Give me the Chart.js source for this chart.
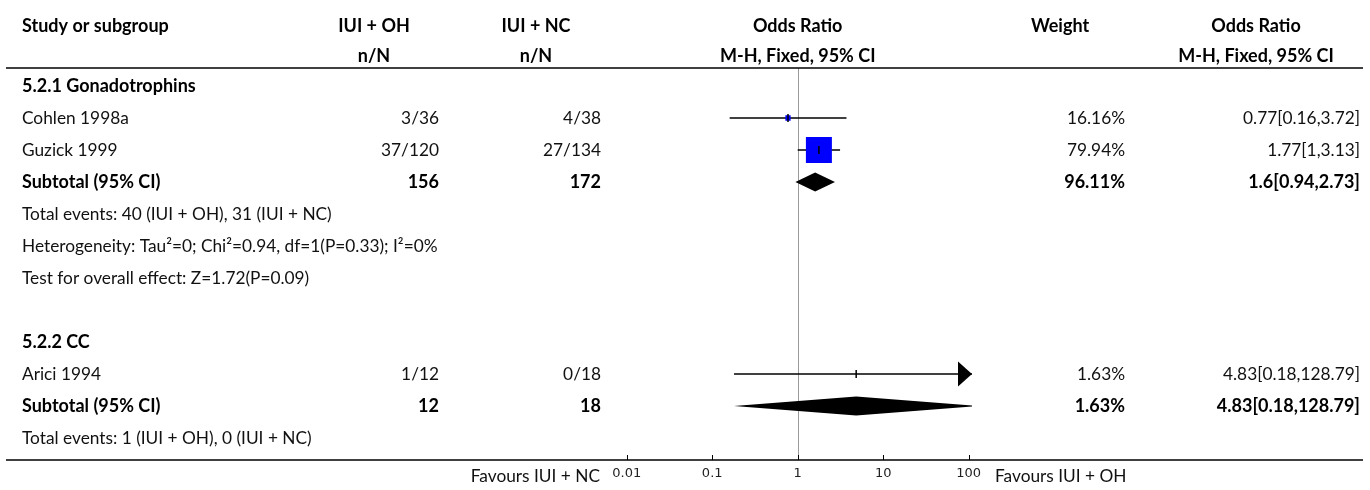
<!DOCTYPE html>
<html><head><meta charset="utf-8">
<script src="https://cdn.jsdelivr.net/npm/chart.js@4"></script>
<style>html,body{margin:0;padding:0;background:#fff;}#wrap{width:1370px;height:490px;position:relative}</style>
</head><body><div id="wrap"><canvas id="c" width="1370" height="490"></canvas></div>
<script>
// ---------- data ----------
const headerTop = ["Study or subgroup", "IUI + OH", "IUI + NC", "Odds Ratio", "Weight", "Odds Ratio"];
const headerSub = ["", "n/N", "n/N", "M-H, Fixed, 95% CI", "", "M-H, Fixed, 95% CI"];
const rowLabels = ["5.2.1 Gonadotrophins", "Cohlen 1998a", "Guzick 1999", "Subtotal (95% CI)",
  "Total events: 40 (IUI + OH), 31 (IUI + NC)",
  "Heterogeneity: Tau\u00B2=0; Chi\u00B2=0.94, df=1(P=0.33); I\u00B2=0%",
  "Test for overall effect: Z=1.72(P=0.09)", "",
  "5.2.2 CC", "Arici 1994", "Subtotal (95% CI)", "Total events: 1 (IUI + OH), 0 (IUI + NC)"];
const rowKinds = ["group", "study", "study", "subtotal", "note", "note", "note", "blank", "group", "study", "subtotal", "note"];
const ohText = ["", "3/36", "37/120", "156", "", "", "", "", "", "1/12", "12", ""];
const ncText = ["", "4/38", "27/134", "172", "", "", "", "", "", "0/18", "18", ""];
const orEst  = [null, 0.77, 1.77, 1.6, null, null, null, null, null, 4.83, 4.83, null];
const ciLow  = [null, 0.16, 1, 0.94, null, null, null, null, null, 0.18, 0.18, null];
const ciHigh = [null, 3.72, 3.13, 2.73, null, null, null, null, null, 128.79, 128.79, null];
const weightVals = [null, 16.16, 79.94, 96.11, null, null, null, null, null, 1.63, 1.63, null];
const weightText = ["", "16.16%", "79.94%", "96.11%", "", "", "", "", "", "1.63%", "1.63%", ""];
const ciText = ["", "0.77[0.16,3.72]", "1.77[1,3.13]", "1.6[0.94,2.73]", "", "", "", "", "", "4.83[0.18,128.79]", "4.83[0.18,128.79]", ""];
const axisTicks = [0.01, 0.1, 1, 10, 100];
const axisTickLabels = ["0.01", "0.1", "1", "10", "100"];
const favoursLeft = "Favours IUI + NC";
const favoursRight = "Favours IUI + OH";

// ---------- styling / layout ----------
const FONT = "Lato";
const FS = 17.3, FSB = 18;
const PX_PER_DECADE = 85.5;
const X_ONE = 797.7;
const EXT = 2.0386; // decades shown each side
const ROW0 = 86, ROWH = 32, TOP = 68, BOTTOM = 460;
const MAXW = Math.max(...weightVals.filter((v, i) => rowKinds[i] === "study"));
const MAX_SIDE = 26;

const studyIdx = rowKinds.map((k, i) => k === "study" ? i : -1).filter(i => i >= 0);
const subIdx = rowKinds.map((k, i) => k === "subtotal" ? i : -1).filter(i => i >= 0);

const datasets = [];
studyIdx.forEach(i => {
  datasets.push({
    type: "line", data: [{x: ciLow[i], y: i}, {x: ciHigh[i], y: i}],
    borderColor: "#000", borderWidth: 1.5, pointRadius: 0, order: 3
  });
});
datasets.push({
  type: "scatter",
  data: studyIdx.map(i => ({x: orEst[i], y: i})),
  pointStyle: "rect",
  pointRadius: studyIdx.map(i => (MAX_SIDE * weightVals[i] / MAXW) / Math.SQRT2),
  backgroundColor: "#0000ff", borderWidth: 0, order: 2
});
datasets.push({
  type: "scatter",
  data: studyIdx.map(i => ({x: orEst[i], y: i})),
  pointStyle: "line", rotation: 90, pointRadius: 4,
  borderColor: "#000", borderWidth: 1.5, order: 1
});

const forestPlugin = {
  id: "forest",
  beforeDatasetsDraw(chart) {
    const {ctx, chartArea, scales: {x}} = chart;
    const px = x.getPixelForValue(1);
    ctx.save();
    ctx.strokeStyle = "#9a9a9a"; ctx.lineWidth = 1;
    ctx.beginPath(); ctx.moveTo(Math.round(px) + 0.5, chartArea.top); ctx.lineTo(Math.round(px) + 0.5, chartArea.bottom); ctx.stroke();
    ctx.restore();
  },
  afterDatasetsDraw(chart) {
    const {ctx, chartArea, scales: {x, y}} = chart;
    ctx.save();
    // diamonds
    ctx.beginPath(); ctx.rect(chartArea.left, chartArea.top, chartArea.right - chartArea.left, chartArea.bottom - chartArea.top); ctx.clip();
    ctx.fillStyle = "#000";
    subIdx.forEach(i => {
      const yc = y.getPixelForValue(i);
      const xl = x.getPixelForValue(ciLow[i]), xm = x.getPixelForValue(orEst[i]), xh = x.getPixelForValue(ciHigh[i]);
      ctx.beginPath(); ctx.moveTo(xl, yc); ctx.lineTo(xm, yc - 9.5); ctx.lineTo(xh, yc); ctx.lineTo(xm, yc + 9.5); ctx.closePath(); ctx.fill();
    });
    ctx.restore();
    ctx.save();
    // arrows for truncated CIs
    ctx.fillStyle = "#000";
    studyIdx.forEach(i => {
      const yc = y.getPixelForValue(i);
      if (ciHigh[i] > x.max) {
        const tip = chartArea.right;
        ctx.beginPath(); ctx.moveTo(tip, yc); ctx.lineTo(tip - 14, yc - 12.5); ctx.lineTo(tip - 14, yc + 12.5); ctx.closePath(); ctx.fill();
      }
      if (ciLow[i] < x.min) {
        const tip = chartArea.left;
        ctx.beginPath(); ctx.moveTo(tip, yc); ctx.lineTo(tip + 14, yc - 12.5); ctx.lineTo(tip + 14, yc + 12.5); ctx.closePath(); ctx.fill();
      }
    });
    // horizontal rules
    ctx.strokeStyle = "#000"; ctx.lineWidth = 1.5;
    ctx.beginPath(); ctx.moveTo(6, TOP); ctx.lineTo(1363, TOP); ctx.stroke();
    ctx.beginPath(); ctx.moveTo(6, BOTTOM); ctx.lineTo(1363, BOTTOM); ctx.stroke();
    // axis ticks
    ctx.lineWidth = 1;
    axisTicks.forEach((t, k) => {
      const tx = Math.round(x.getPixelForValue(t)) + 0.5;
      ctx.beginPath(); ctx.moveTo(tx, BOTTOM); ctx.lineTo(tx, BOTTOM - 5); ctx.stroke();
    });
    ctx.fillStyle = "#222"; ctx.font = "13px 'DejaVu Sans'"; ctx.textAlign = "center"; ctx.textBaseline = "middle";
    axisTicks.forEach((t, k) => ctx.fillText(axisTickLabels[k], x.getPixelForValue(t), 474));
    // favours
    ctx.fillStyle = "#111"; ctx.font = FS + "px " + FONT; ctx.textBaseline = "middle";
    ctx.textAlign = "right"; ctx.fillText(favoursLeft, 600, 476);
    ctx.textAlign = "left"; ctx.fillText(favoursRight, 995, 476);
    // headers
    const bold = "bold " + FSB + "px " + FONT, reg = FS + "px " + FONT;
    ctx.font = bold; ctx.fillStyle = "#000";
    const hx = [22, 374, 536, x.getPixelForValue(1), 1060, 1256];
    headerTop.forEach((h, k) => { ctx.textAlign = k === 0 ? "left" : "center"; ctx.fillText(h, hx[k], 26); });
    headerSub.forEach((h, k) => { if (h) { ctx.textAlign = k === 0 ? "left" : "center"; ctx.fillText(h, hx[k], 56); } });
    // rows
    rowLabels.forEach((lab, i) => {
      const yc = y.getPixelForValue(i);
      const isBold = rowKinds[i] === "group" || rowKinds[i] === "subtotal";
      ctx.font = isBold ? bold : reg; ctx.fillStyle = isBold ? "#000" : "#111";
      ctx.textAlign = "left"; ctx.fillText(lab, 22, yc);
      ctx.textAlign = "right";
      if (ohText[i]) ctx.fillText(ohText[i], 439, yc);
      if (ncText[i]) ctx.fillText(ncText[i], 601, yc);
      if (weightText[i]) ctx.fillText(weightText[i], 1125, yc);
      if (ciText[i]) ctx.fillText(ciText[i], 1360, yc);
    });
    ctx.restore();
  }
};

new Chart(document.getElementById("c"), {
  data: {datasets},
  options: {
    responsive: false, animation: false, devicePixelRatio: 1,
    layout: {padding: {left: X_ONE - EXT * PX_PER_DECADE, right: 1370 - (X_ONE + EXT * PX_PER_DECADE), top: TOP, bottom: 490 - BOTTOM}},
    scales: {
      x: {type: "logarithmic", min: Math.pow(10, -EXT), max: Math.pow(10, EXT), display: false},
      y: {type: "linear", reverse: true, min: (TOP - ROW0) / ROWH, max: (BOTTOM - ROW0) / ROWH, display: false}
    },
    plugins: {legend: {display: false}, tooltip: {enabled: false}}
  },
  plugins: [forestPlugin]
});
</script>
</body></html>
